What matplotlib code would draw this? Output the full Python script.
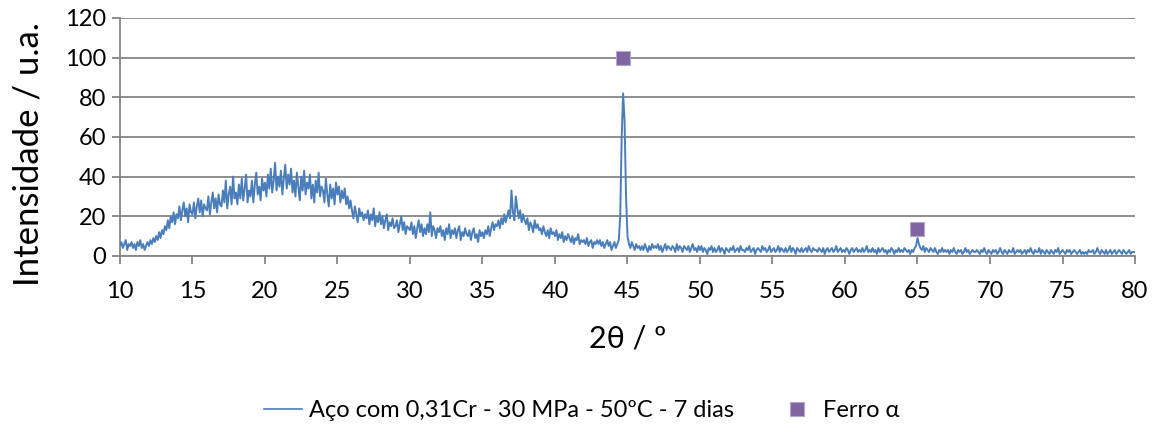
import numpy as np
import matplotlib
matplotlib.use('Agg')
import matplotlib.pyplot as plt
from matplotlib.lines import Line2D

plt.rcParams['font.family'] = ['Lato', 'DejaVu Sans']

# XRD pattern, 0.1 deg steps, one row per degree (10.0 .. 79.9)
two_theta_start = 10.0
two_theta_step = 0.1
intensity_rows = [
    [5, 7, 4, 6, 8, 3, 6, 5, 7, 4],          # 10
    [6, 3, 7, 5, 8, 4, 6, 3, 5, 7],          # 11
    [5, 8, 6, 9, 7, 10, 8, 12, 9, 13],       # 12
    [11, 15, 13, 18, 14, 20, 17, 22, 16, 21],
    [19, 25, 18, 23, 27, 20, 24, 17, 26, 22],
    [21, 27, 19, 25, 29, 22, 28, 20, 26, 24],  # 15
    [23, 30, 21, 27, 32, 24, 29, 22, 31, 26],
    [25, 33, 27, 38, 24, 31, 35, 26, 40, 29],
    [32, 26, 36, 29, 39, 28, 34, 41, 27, 33],
    [30, 38, 27, 36, 42, 31, 35, 28, 39, 33],
    [37, 30, 41, 34, 44, 32, 38, 47, 33, 40],  # 20
    [35, 43, 31, 39, 46, 34, 41, 36, 44, 32],
    [38, 30, 42, 35, 28, 40, 33, 43, 31, 37],
    [34, 41, 29, 36, 27, 38, 32, 42, 30, 35],
    [33, 27, 39, 31, 25, 36, 29, 34, 26, 37],
    [31, 35, 27, 33, 29, 34, 26, 30, 24, 28],  # 25
    [23, 19, 25, 21, 17, 24, 20, 22, 18, 21],
    [19, 23, 16, 21, 18, 24, 15, 20, 17, 22],
    [16, 20, 14, 18, 21, 13, 17, 15, 19, 14],
    [15, 18, 12, 16, 20, 13, 17, 11, 15, 14],
    [13, 17, 11, 15, 9, 14, 18, 12, 16, 10],   # 30
    [14, 11, 16, 12, 22, 10, 15, 13, 9, 14],
    [12, 15, 10, 13, 8, 14, 11, 16, 9, 13],
    [11, 14, 9, 13, 15, 8, 12, 10, 14, 11],
    [10, 13, 8, 12, 14, 9, 11, 7, 13, 10],
    [12, 9, 13, 11, 15, 10, 14, 17, 13, 16],   # 35
    [15, 18, 14, 19, 16, 21, 17, 20, 23, 19],
    [33, 22, 18, 30, 24, 19, 23, 17, 21, 18],
    [16, 19, 13, 17, 15, 12, 18, 14, 16, 13],
    [14, 11, 15, 12, 10, 13, 9, 14, 11, 12],
    [10, 13, 8, 11, 9, 12, 7, 10, 8, 11],      # 40
    [9, 7, 10, 6, 9, 8, 11, 6, 8, 7],
    [8, 6, 9, 5, 7, 8, 4, 7, 6, 8],
    [6, 8, 5, 7, 4, 6, 8, 5, 7, 3],
    [5, 7, 4, 6, 8, 20, 60, 82, 68, 30],
    [10, 6, 4, 7, 5, 3, 6, 4, 5, 3],           # 45
    [5, 3, 6, 4, 2, 5, 3, 6, 4, 5],
    [4, 6, 3, 5, 2, 4, 6, 3, 5, 4],
    [3, 5, 4, 2, 6, 3, 5, 4, 2, 5],
    [4, 3, 5, 2, 4, 6, 3, 4, 2, 5],
    [3, 5, 2, 4, 3, 1, 4, 3, 5, 2],            # 50
    [4, 2, 3, 5, 2, 4, 3, 1, 4, 3],
    [2, 4, 3, 5, 2, 3, 4, 2, 5, 3],
    [3, 2, 4, 3, 5, 2, 3, 4, 1, 3],
    [4, 3, 2, 5, 3, 4, 2, 3, 5, 2],
    [3, 4, 2, 3, 5, 2, 4, 3, 2, 4],            # 55
    [2, 3, 5, 2, 4, 3, 1, 4, 3, 2],
    [4, 2, 3, 4, 2, 5, 3, 2, 4, 3],
    [3, 2, 4, 3, 2, 4, 1, 3, 4, 2],
    [3, 4, 2, 3, 5, 2, 3, 4, 2, 3],
    [2, 4, 3, 1, 3, 4, 2, 3, 4, 2],            # 60
    [3, 2, 4, 2, 3, 5, 2, 3, 2, 4],
    [2, 3, 1, 4, 2, 3, 4, 2, 3, 1],
    [3, 2, 4, 3, 1, 3, 2, 4, 2, 3],
    [2, 4, 3, 2, 3, 1, 3, 2, 4, 5],
    [9, 6, 4, 3, 5, 2, 4, 3, 2, 4],            # 65
    [3, 2, 4, 2, 1, 3, 2, 4, 2, 3],
    [2, 3, 1, 3, 2, 4, 2, 1, 3, 2],
    [3, 1, 2, 4, 2, 3, 1, 2, 3, 2],
    [2, 3, 2, 1, 3, 2, 4, 2, 1, 3],
    [2, 1, 3, 2, 3, 1, 2, 4, 2, 1],            # 70
    [3, 2, 1, 3, 2, 2, 4, 1, 2, 3],
    [2, 3, 1, 2, 3, 1, 3, 2, 4, 2],
    [1, 3, 2, 2, 4, 1, 3, 2, 1, 3],
    [2, 1, 3, 2, 1, 3, 2, 4, 1, 2],
    [3, 2, 1, 3, 2, 3, 1, 2, 3, 2],            # 75
    [1, 2, 3, 1, 2, 1, 2, 1, 3, 2],
    [2, 3, 1, 2, 4, 2, 1, 3, 2, 1],
    [3, 1, 2, 3, 1, 2, 3, 1, 2, 3],
    [2, 1, 3, 2, 1, 2, 3, 1, 2, 2],
]
intensity_end = [2]  # at 80.0

# phase markers
ferro_x = [44.7, 65.0]
ferro_y = [100, 13.5]

series_label = 'Aço com 0,31Cr - 30 MPa - 50ºC - 7 dias'
marker_label = 'Ferro α'

intensity = np.array([v for row in intensity_rows for v in row] + intensity_end, dtype=float)
two_theta = two_theta_start + two_theta_step * np.arange(len(intensity))

line_color = '#4A7EBB'
marker_color = '#8064A2'
grid_color = '#868686'

fig = plt.figure(figsize=(11.59, 4.28), dpi=100)
ax = fig.add_axes([0.1035, 0.402, 0.8758, 0.556])

ax.plot(two_theta, intensity, color=line_color, linewidth=1.4, zorder=3)
ax.plot(ferro_x, ferro_y, linestyle='none', marker='s', markersize=10,
        markerfacecolor=marker_color, markeredgecolor='#B5A6CC',
        markeredgewidth=0.8, zorder=4)

ax.set_xlim(10, 80)
ax.set_ylim(0, 120)
ax.set_xticks(np.arange(10, 81, 5))
ax.set_yticks(np.arange(0, 121, 20))
ax.yaxis.grid(True, color=grid_color, linewidth=1.3)
ax.set_axisbelow(True)

for side in ['top', 'right']:
    ax.spines[side].set_visible(False)
for side in ['left', 'bottom']:
    ax.spines[side].set_color(grid_color)
    ax.spines[side].set_linewidth(1.3)

ax.tick_params(axis='both', direction='out', length=6, width=1.3,
               color=grid_color, labelsize=17, labelcolor='black')
ax.tick_params(axis='x', pad=12)
ax.tick_params(axis='y', pad=4)

ax.set_xlabel('2θ / º', fontsize=22, labelpad=16)
ax.set_ylabel('Intensidade / u.a.', fontsize=25)
ax.yaxis.set_label_coords(-0.074, 0.43)

handles = [
    Line2D([], [], color=line_color, linewidth=1.2),
    Line2D([], [], linestyle='none', marker='s', markersize=10,
           markerfacecolor=marker_color, markeredgecolor='#B5A6CC', markeredgewidth=0.8),
]
fig.legend(handles, [series_label, marker_label], loc='center',
           bbox_to_anchor=(0.502, 0.04), ncol=2, frameon=False, fontsize=17,
           handlelength=1.6, handletextpad=0.3, columnspacing=1.9)

fig.savefig('out.png', dpi=100)
